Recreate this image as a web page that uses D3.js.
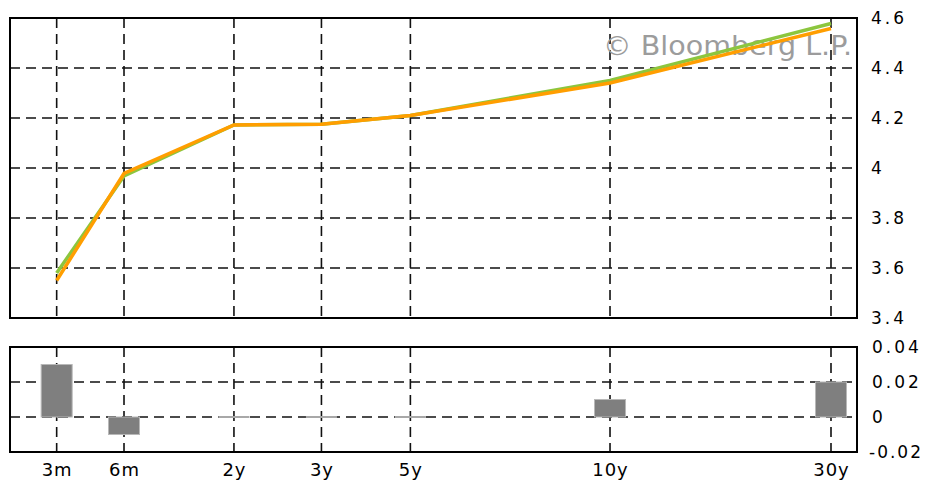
<!DOCTYPE html>
<html>
<head>
<meta charset="utf-8">
<script src="https://cdn.jsdelivr.net/npm/d3@7"></script>
<style>
  html, body { margin: 0; padding: 0; background: #fff; }
  svg { display: block; }
  text { font-family: "DejaVu Sans", Verdana, sans-serif; }
</style>
</head>
<body>
<svg id="chart" width="928" height="481"></svg>
<script>
// ---- data ----
const tenors = ["3m", "6m", "2y", "3y", "5y", "10y", "30y"];
const tenorYears = [0.25, 0.5, 2, 3, 5, 10, 30];
const currentYield = [3.58, 3.968, 4.172, 4.175, 4.210, 4.350, 4.578];   // green
const previousYield = [3.55, 3.978, 4.172, 4.175, 4.210, 4.340, 4.558];  // orange
const change = [0.03, -0.01, 0, 0, 0, 0.01, 0.02];
const mainTicks = [3.4, 3.6, 3.8, 4, 4.2, 4.4, 4.6];
const changeTicks = [-0.02, 0, 0.02, 0.04];

// ---- layout ----
const svg = d3.select("#chart");
const left = 10, right = 857;
const main = { top: 18, bottom: 318 };
const sub = { top: 347, bottom: 452 };
const W = right - left;

// tenor axis: piecewise (Bloomberg curve spacing)
const x = d3.scaleLinear()
  .domain(tenorYears)
  .range([0.0551, 0.1346, 0.2644, 0.3677, 0.4727, 0.7084, 0.9693].map(f => left + f * W));

const y = d3.scaleLinear().domain([3.4, 4.6]).range([main.bottom, main.top]);
const y2 = d3.scaleLinear().domain([-0.02, 0.04]).range([sub.bottom, sub.top]);

const dash = "10,6";
const gridW = 1.6;
const gridC = "#111";

// ---- main panel grid ----
const gMain = svg.append("g");
gMain.selectAll("line.h").data(mainTicks.filter(t => t > 3.4 && t < 4.6)).join("line")
  .attr("x1", left).attr("x2", right - 4)
  .attr("y1", d => y(d)).attr("y2", d => y(d))
  .attr("stroke", gridC).attr("stroke-width", gridW).attr("stroke-dasharray", dash);
gMain.selectAll("line.v").data(tenorYears).join("line")
  .attr("x1", d => x(d)).attr("x2", d => x(d))
  .attr("y1", main.top).attr("y2", main.bottom)
  .attr("stroke", gridC).attr("stroke-width", gridW).attr("stroke-dasharray", dash);

// watermark
svg.append("text")
  .attr("x", 603).attr("y", 55)
  .attr("font-size", 27)
  .attr("textLength", 249).attr("lengthAdjust", "spacingAndGlyphs")
  .attr("fill", "#9c9c9c")
  .text("© Bloomberg L.P.");

// lines
const line = d3.line().x((d, i) => x(tenorYears[i])).y(d => y(d));
svg.append("path").datum(currentYield).attr("d", line)
  .attr("fill", "none").attr("stroke", "#8cc63e").attr("stroke-width", 3.5);
svg.append("path").datum(previousYield).attr("d", line)
  .attr("fill", "none").attr("stroke", "#ff9e00").attr("stroke-width", 3.5);

// frame
svg.append("rect").attr("x", left).attr("y", main.top)
  .attr("width", W).attr("height", main.bottom - main.top)
  .attr("fill", "none").attr("stroke", "#000").attr("stroke-width", 2);

// main y labels
svg.append("g").selectAll("text").data(mainTicks).join("text")
  .attr("x", 871).attr("y", d => y(d))
  .attr("dy", "0.36em")
  .attr("font-size", 17).attr("letter-spacing", "3px")
  .attr("fill", "#000")
  .text(d => d3.format("")(d));

// ---- change panel ----
svg.append("g").selectAll("line").data([0, 0.02]).join("line")
  .attr("x1", left).attr("x2", right - 4)
  .attr("y1", d => y2(d)).attr("y2", d => y2(d))
  .attr("stroke", gridC).attr("stroke-width", gridW).attr("stroke-dasharray", dash);
svg.append("g").selectAll("line").data(tenorYears).join("line")
  .attr("x1", d => x(d)).attr("x2", d => x(d))
  .attr("y1", sub.top).attr("y2", sub.bottom)
  .attr("stroke", gridC).attr("stroke-width", gridW).attr("stroke-dasharray", dash);

const barW = 31;
svg.append("g").selectAll("rect").data(change).join("rect")
  .attr("x", (d, i) => x(tenorYears[i]) - barW / 2)
  .attr("y", d => d === 0 ? y2(0) - 1 : Math.min(y2(d), y2(0)))
  .attr("width", barW)
  .attr("height", d => d === 0 ? 2 : Math.abs(y2(d) - y2(0)))
  .attr("fill", d => d === 0 ? "#a8a8a8" : "#7f7f7f")
  .attr("stroke", d => d === 0 ? "none" : "#b8b8b8")
  .attr("stroke-width", 1);

svg.append("rect").attr("x", left).attr("y", sub.top)
  .attr("width", W).attr("height", sub.bottom - sub.top)
  .attr("fill", "none").attr("stroke", "#000").attr("stroke-width", 2);

svg.append("g").selectAll("text").data(changeTicks).join("text")
  .attr("x", d => d < 0 ? 869 : 872).attr("y", d => y2(d))
  .attr("dy", "0.36em")
  .attr("font-size", 17).attr("letter-spacing", d => d < 0 ? "2px" : "3px")
  .attr("fill", "#000")
  .text(d => d3.format("")(d).replace("−", "-"));

// x labels
svg.append("g").selectAll("text").data(tenors).join("text")
  .attr("x", (d, i) => x(tenorYears[i]) + 0.5).attr("y", 470)
  .attr("dy", "0.36em")
  .attr("text-anchor", "middle")
  .attr("font-size", 18).attr("letter-spacing", "1px")
  .attr("fill", "#000")
  .text(d => d);
</script>
</body>
</html>
